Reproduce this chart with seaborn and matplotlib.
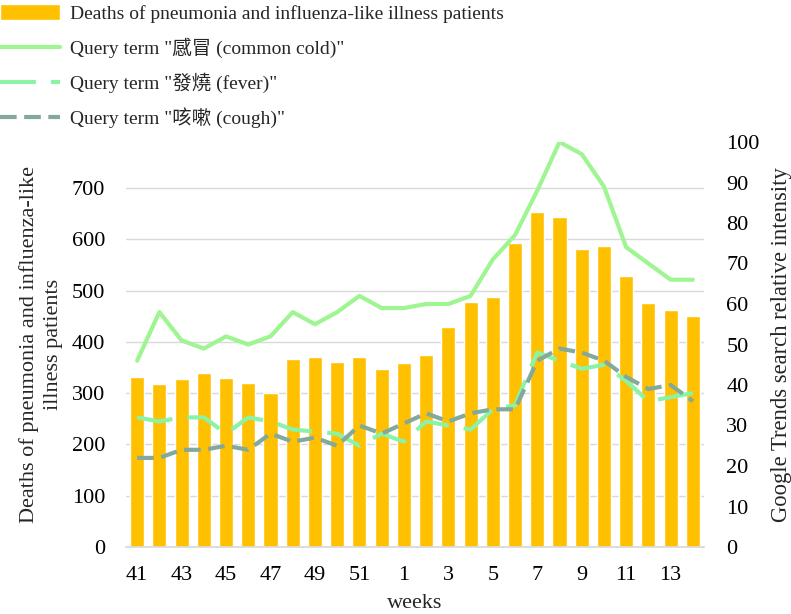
import numpy as np
import pandas as pd
import seaborn as sns
import matplotlib
matplotlib.use("Agg")
import matplotlib.pyplot as plt

sns.set_theme(style="white")
plt.rcParams['font.family'] = ['Liberation Serif', 'Noto Sans CJK TC', 'DejaVu Sans']

# weeks 41..52 then 1..14
weeks = [41, 42, 43, 44, 45, 46, 47, 48, 49, 50, 51, 52,
         1, 2, 3, 4, 5, 6, 7, 8, 9, 10, 11, 12, 13, 14]
deaths = [332, 318, 327, 339, 329, 320, 300, 366, 370, 360, 371, 347,
          358, 375, 430, 477, 487, 593, 654, 644, 582, 587, 528, 475, 462, 451]
cold = [46, 58, 51, 49, 52, 50, 52, 58, 55, 58, 62, 59,
        59, 60, 60, 62, 71, 77, 88, 100, 97, 89, 74, 70, 66, 66]
fever = [32, 31, 32, 32, 28, 32, 31, 29, 28.5, 28, 25, 28,
         26, 31, 30, 29, 34, 35, 48, 46, 44, 45, 41, 36, 37, 38]
cough = [22, 22, 24, 24, 25, 24, 28, 26, 27, 25, 30, 28,
         30.5, 33, 31, 33, 34, 34, 46, 49, 48, 46, 42, 39, 40, 36]

labels = ['Deaths of pneumonia and influenza-like illness patients',
          'Query term "感冒 (common cold)"',
          'Query term "發燒 (fever)"',
          'Query term "咳嗽 (cough)"']

df = pd.DataFrame({'idx': range(len(weeks)), 'week': weeks, 'deaths': deaths,
                   'cold': cold, 'fever': fever, 'cough': cough})

fig = plt.figure(figsize=(7.91, 6.14), dpi=100)
ax = fig.add_axes([126/791, 1 - 547/614, 578/791, 405/614])

sns.barplot(data=df, x='idx', y='deaths', color='#FFC000', saturation=1,
            width=0.63, ax=ax, label=labels[0])
if ax.get_legend():
    ax.get_legend().remove()
ax.set_ylim(0, 790)
ax.set_xlim(-0.5, len(weeks) - 0.5)
ax.set_yticks(range(0, 800, 100))
ax.yaxis.grid(True, color='#D9D9D9', linewidth=1)
ax.set_axisbelow(True)
for s in ['left', 'right', 'top']:
    ax.spines[s].set_visible(False)
ax.spines['bottom'].set_color('#D9D9D9')
ax.set_xticks(range(0, len(weeks), 2))
ax.set_xticklabels([str(w) for w in weeks[::2]])
ax.tick_params(axis='y', length=0, labelsize=16, colors='black', pad=15)
ax.tick_params(axis='x', length=0, labelsize=16, colors='black', pad=14)
ax.set_xlabel('weeks', fontsize=16, labelpad=6)
ax.set_ylabel('Deaths of pneumonia and influenza-like\nillness patients',
              fontsize=16, labelpad=6, linespacing=1.4)

ax2 = ax.twinx()
sns.lineplot(data=df, x='idx', y='cold', color='#9FF592', linewidth=3,
             ax=ax2, label=labels[1])
sns.lineplot(data=df, x='idx', y='fever', color='#8BF3A6', linewidth=3,
             linestyle=(0, (8.6, 3.6)), ax=ax2, label=labels[2])
sns.lineplot(data=df, x='idx', y='cough', color='#82A99C', linewidth=3,
             linestyle=(0, (4, 1.8)), ax=ax2, label=labels[3])
ax2.set_ylim(0, 100)
ax2.set_yticks(range(0, 101, 10))
for s in ['left', 'right', 'top', 'bottom']:
    ax2.spines[s].set_visible(False)
ax2.tick_params(axis='y', length=0, labelsize=16, colors='black', pad=16)
ax2.set_ylabel('Google Trends search relative intensity', fontsize=16.3, labelpad=8)
ax2.grid(False)
ax2.get_legend().remove()

h1, l1 = ax.get_legend_handles_labels()
h2, l2 = ax2.get_legend_handles_labels()
fig.legend(h1 + h2, l1 + l2, loc='upper left', bbox_to_anchor=(0, 0.993),
           frameon=False, fontsize=14, handlelength=3.1, handleheight=0.9,
           handletextpad=0.5, labelspacing=0.75, borderpad=0, borderaxespad=0)

fig.savefig('out.png', dpi=100)
